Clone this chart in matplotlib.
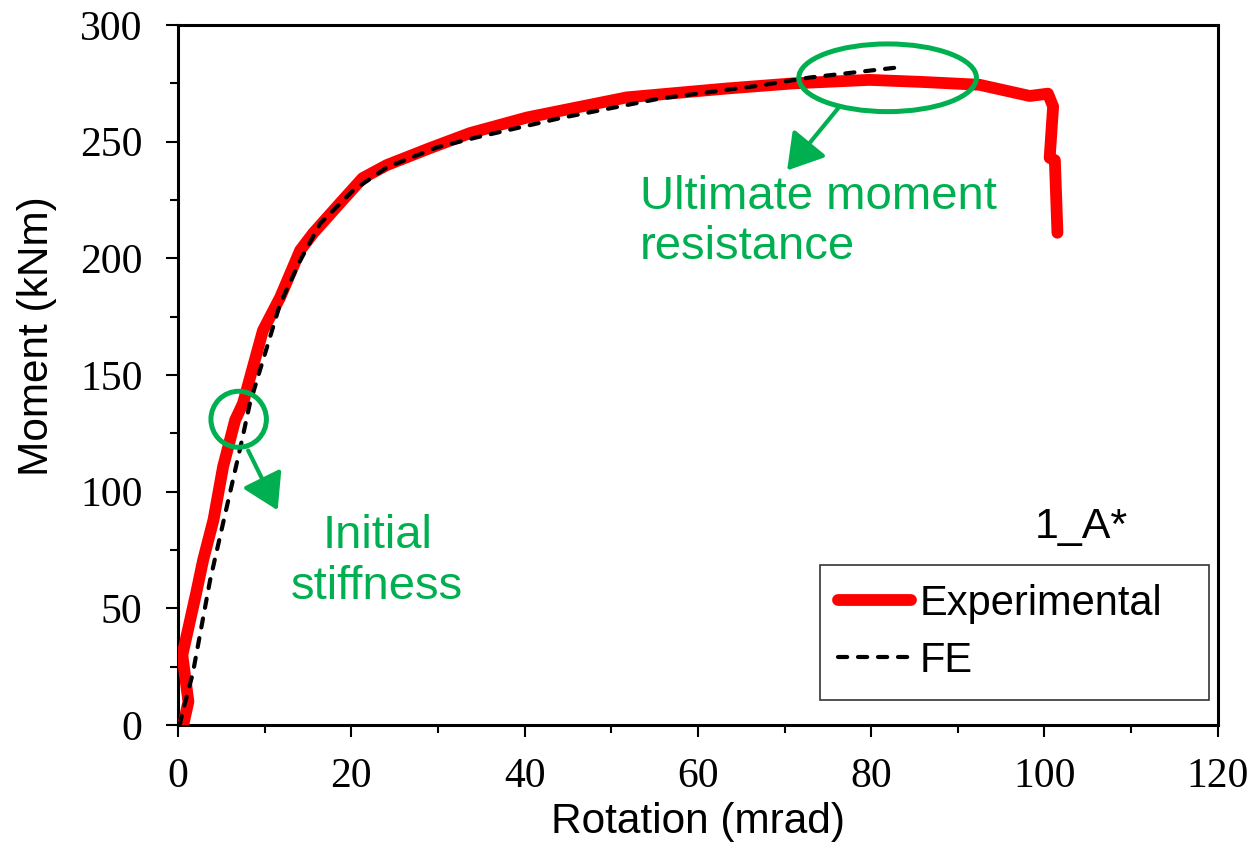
import matplotlib
matplotlib.use("Agg")
import matplotlib.pyplot as plt
from matplotlib.patches import Ellipse, FancyArrowPatch
from matplotlib.ticker import MultipleLocator

# Moment-rotation response, specimen 1_A*
exp_rot = [0.6, 1.2, 0.5, 2.1, 2.9, 4.1, 5.2, 6.6, 7.5, 9.8, 11.8, 14.1, 15.6,
           18.7, 21.3, 24.1, 29.1, 33.7, 40.3, 51.8, 63.3, 71.0, 79.8, 86.0,
           92.5, 98.3, 100.4, 101.0, 100.6, 101.2, 101.5]
exp_mom = [0.0, 10.0, 30.0, 56.6, 70.7, 88.0, 110.6, 130.7, 137.8, 169.0,
           183.3, 203.4, 210.7, 223.6, 234.3, 239.9, 247.2, 253.6, 260.3,
           268.9, 272.7, 274.9, 276.4, 275.5, 274.3, 269.5, 270.5, 265.0,
           243.0, 242.0, 210.9]

fe_rot = [0.2, 0.5, 1.7, 3.7, 5.6, 7.2, 8.3, 9.8, 11.8, 14.1, 16.4, 20.2, 24.1,
          29.9, 34.5, 44.1, 55.6, 67.2, 72.9, 79.0, 83.7]
fe_mom = [0.0, 5.0, 22.0, 62.0, 93.0, 119.0, 137.8, 156.2, 180.6, 199.0,
          214.8, 229.0, 238.9, 247.5, 251.8, 260.0, 268.4, 274.0, 277.4,
          280.0, 282.0]

GREEN = "#00B050"
SANS = "Liberation Sans"
SERIF = "Liberation Serif"

fig = plt.figure(figsize=(12.58, 8.55), dpi=100)
ax = fig.add_axes([0.1415, 0.152, 0.8265, 0.819])

ax.plot(exp_rot, exp_mom, color="red", lw=8.5, solid_capstyle="round",
        solid_joinstyle="round", label="Experimental", zorder=3)
ax.plot(fe_rot, fe_mom, color="black", lw=3, linestyle=(0, (2.2, 2.6)),
        dash_capstyle="round", label="FE", zorder=4)

ax.set_xlim(0, 120)
ax.set_ylim(0, 300)
ax.xaxis.set_major_locator(MultipleLocator(20))
ax.xaxis.set_minor_locator(MultipleLocator(10))
ax.yaxis.set_major_locator(MultipleLocator(50))
ax.yaxis.set_minor_locator(MultipleLocator(25))
ax.tick_params(which="major", direction="out", length=8.5, width=1.5)
ax.tick_params(which="minor", direction="out", length=6, width=1.5)
ax.tick_params(axis="x", which="major", pad=15)
ax.tick_params(axis="y", which="major", pad=17)
for lbl in ax.get_xticklabels() + ax.get_yticklabels():
    lbl.set_fontfamily(SERIF)
    lbl.set_fontsize(30)
for sp in ax.spines.values():
    sp.set_linewidth(2.2)

ax.set_xlabel("Rotation (mrad)", fontsize=30.5, family=SANS, labelpad=4)
ax.set_ylabel("Moment (kNm)", fontsize=30.5, family=SANS, va="center")
ax.yaxis.set_label_coords(-0.136, 0.556)

# highlighted regions
ax.add_patch(Ellipse((7.0, 131), 6.4, 24, fill=False, ec=GREEN, lw=3.6, zorder=5))
ax.add_patch(Ellipse((81.9, 277.3), 20.5, 29, fill=False, ec=GREEN, lw=3.6, zorder=5))
for start, end in [((8.1, 117.6), (11.5, 92.0)), ((76.2, 264.3), (70.3, 237.6))]:
    ax.add_patch(FancyArrowPatch(start, end, arrowstyle="-|>,head_length=0.9,head_width=0.55",
                                 mutation_scale=24, color=GREEN, lw=3, shrinkA=0,
                                 shrinkB=0, zorder=5))

ax.text(23.0, 70, "Initial\nstiffness", fontsize=34, family=SANS, color=GREEN,
        ha="center", va="center", multialignment="center")
ax.text(53.3, 215.5, "Ultimate moment\nresistance", fontsize=34, family=SANS,
        color=GREEN, ha="left", va="center")
ax.text(98.9, 85, "1_A*", fontsize=31, family=SANS, ha="left", va="center")

leg = ax.legend(loc="lower left", bbox_to_anchor=(0.617, 0.036, 0.375, 0.19),
                mode="expand", fancybox=False,
                prop={"family": SANS, "size": 30}, handlelength=1.75,
                handletextpad=0.2, labelspacing=0.42, borderpad=0.45,
                borderaxespad=0)
leg.get_frame().set_edgecolor("black")
leg.get_frame().set_linewidth(1.2)

fig.savefig("out.png", dpi=100)
